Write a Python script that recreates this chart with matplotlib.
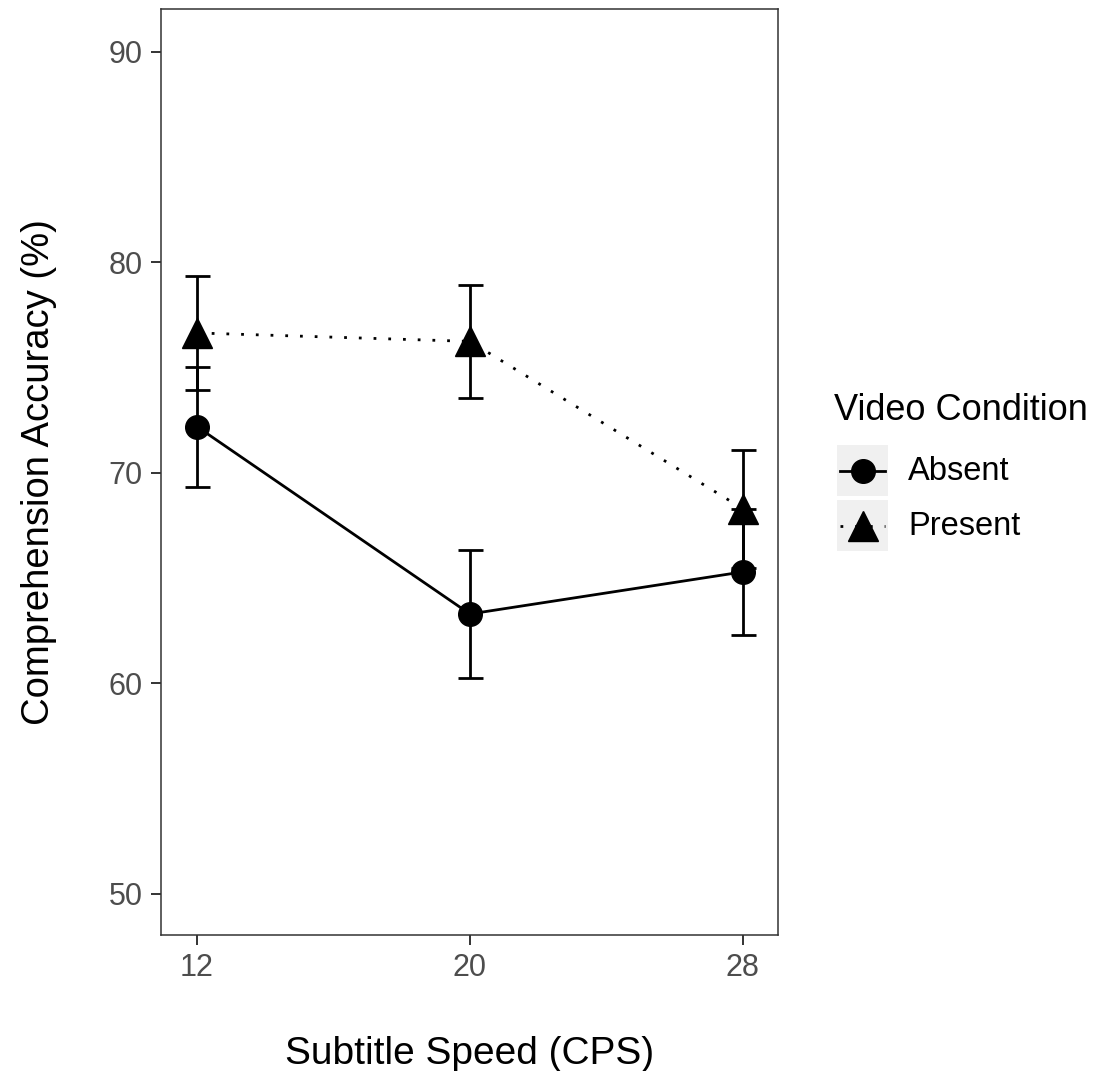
import matplotlib
matplotlib.use("Agg")
import matplotlib.pyplot as plt
from matplotlib.patches import Rectangle
from matplotlib.lines import Line2D

plt.rcParams['font.family'] = ['Liberation Sans', 'DejaVu Sans']

# Subtitle speed (characters per second)
speeds = [12, 20, 28]
# Mean comprehension accuracy (%) and error half-widths per video condition
absent_mean = [72.2, 63.3, 65.3]
absent_err = [2.85, 3.05, 3.0]
present_mean = [76.65, 76.25, 68.3]
present_err = [2.7, 2.7, 2.8]
conditions = ["Absent", "Present"]
y_ticks = [50, 60, 70, 80, 90]

W, H = 1096, 1071
fig = plt.figure(figsize=(W / 100, H / 100), dpi=100)
ax = fig.add_axes([161 / W, 1 - 935 / H, (778 - 161) / W, (935 - 9) / H])

line_kw = dict(color="black", lw=2.0)
err_kw = dict(ecolor="black", elinewidth=2.0, capsize=9, capthick=2.0)
dotted = (0, (1, 4.3))

ax.errorbar(speeds, absent_mean, yerr=absent_err, fmt="none", zorder=2, **err_kw)
ax.errorbar(speeds, present_mean, yerr=present_err, fmt="none", zorder=2, **err_kw)
ax.plot(speeds, absent_mean, linestyle="-", zorder=3, **line_kw)
ax.plot(speeds, present_mean, linestyle=dotted, zorder=3, **line_kw)
ax.plot(speeds, absent_mean, linestyle="none", marker="o", ms=17,
        color="black", zorder=4)
ax.plot(speeds, present_mean, linestyle="none", marker="^", ms=21,
        color="black", zorder=4)

ax.set_xlim(10.945, 29.03)
ax.set_ylim(48.05, 92.04)
ax.set_xticks(speeds)
ax.set_xticklabels([str(s) for s in speeds])
ax.set_yticks(y_ticks)
ax.set_yticklabels([str(t) for t in y_ticks])

for s in ax.spines.values():
    s.set_color("#333333")
    s.set_linewidth(1.1)
ax.tick_params(axis="both", colors="#333333", length=7, width=1.4,
               labelsize=22, labelcolor="#4d4d4d", pad=6)

ax.set_xlabel("Subtitle Speed (CPS)", fontsize=28, labelpad=38)
ax.set_ylabel("Comprehension Accuracy (%)", fontsize=27.5, labelpad=37)

# Legend drawn on an overlay in pixel units
lax = fig.add_axes([0, 0, 1, 1], zorder=5)
lax.set_xlim(0, W)
lax.set_ylim(H, 0)
lax.axis("off")
lax.patch.set_alpha(0)

lax.text(834, 411, "Video Condition", fontsize=26, va="center", ha="left")
keys = [(445, "-", "o", 17), (500, dotted, "^", 21)]
for (ytop, ls, mk, ms), label in zip(keys, conditions):
    lax.add_patch(Rectangle((837, ytop), 51, 51, facecolor="#f0f0f0",
                            edgecolor="none"))
    yc = ytop + 25.5
    lax.add_line(Line2D([840, 885], [yc, yc], color="black", lw=2.0,
                        linestyle=ls))
    lax.add_line(Line2D([862.5], [yc], marker=mk, ms=ms, color="black",
                        linestyle="none"))
    lax.text(908, yc + 1, label, fontsize=23.5, va="center", ha="left")

fig.savefig("out.png", dpi=100)
